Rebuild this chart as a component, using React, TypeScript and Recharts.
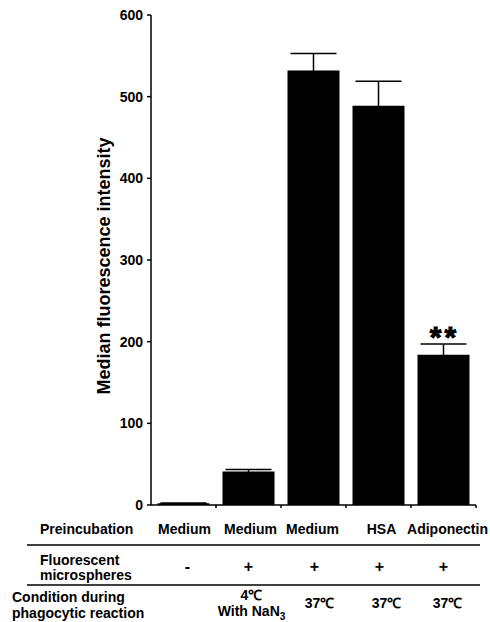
import React from "react";
import { BarChart, Bar, XAxis, YAxis, ErrorBar, LabelList } from "recharts";

const preincubation = ["Medium", "Medium", "Medium", "HSA", "Adiponectin"];
const microspheres = ["-", "+", "+", "+", "+"];
const conditions: string[][] = [[], ["4℃", "With NaN"], ["37℃"], ["37℃"], ["37℃"]];
const medianFluorescence = [2, 41, 532, 489, 184];
const sem = [0.5, 2.5, 21, 30, 13];
const significance = ["", "", "", "", "**"];
const yTicks = [0, 100, 200, 300, 400, 500, 600];

// small per-column nudges of the table text (layout only)
const nameShift = [1, 2, -1, 3, 4];
const signShift = [4, 0, 1, 1, 0];
const condShift = [0, 3, 6, 8, 4];

const FONT = "'Liberation Sans', Arial, Helvetica, sans-serif";

const data = preincubation.map((name, i) => ({
  id: i,
  name,
  value: medianFluorescence[i],
  err: sem[i],
  sig: significance[i],
}));

// one column of the table under the chart, plus the boundary tick
const TableTick = (props: any) => {
  const { x, y, index } = props;
  const band = 65;
  const cond = conditions[index];
  const cx = x + condShift[index];
  return (
    <g fontFamily={FONT} fontWeight="bold" fontSize={14} fill="#000">
      <line x1={x + band / 2} x2={x + band / 2} y1={y} y2={y + 3} stroke="#000" strokeWidth={1.5} />
      <text x={x + nameShift[index]} y={y + 29} textAnchor="middle">{preincubation[index]}</text>
      <text x={x + signShift[index]} y={y + 67} textAnchor="middle" fontSize={16}>
        {microspheres[index]}
      </text>
      {cond.length === 2 ? (
        <>
          <text x={cx} y={y + 95} textAnchor="middle">{cond[0]}</text>
          <text x={cx} y={y + 111} textAnchor="middle">
            {cond[1]}
            <tspan dy={4} fontSize={10}>3</tspan>
          </text>
        </>
      ) : cond.length === 1 ? (
        <text x={cx} y={y + 103} textAnchor="middle">{cond[0]}</text>
      ) : null}
    </g>
  );
};

const Stars = (props: any) => {
  const { x, y, width, value } = props;
  if (!value) return null;
  return (
    <text
      x={x + width / 2 + 1}
      y={y - 8}
      textAnchor="middle"
      fontFamily={FONT}
      fontWeight="bold"
      fontSize={30}
      letterSpacing={3}
      fill="#000"
      stroke="#000"
      strokeWidth={1}
    >
      {value}
    </text>
  );
};

export default function App() {
  return (
    <div style={{ position: "absolute", left: 0, top: 0, width: 490, height: 622, background: "#fff" }}>
      <BarChart
        width={490}
        height={622}
        data={data}
        margin={{ top: 15, right: 14, bottom: 0, left: 0 }}
        barCategoryGap="10%"
      >
        <YAxis
          width={151}
          domain={[0, 600]}
          ticks={yTicks}
          interval={0}
          tickSize={4}
          tickMargin={4}
          stroke="#000"
          strokeWidth={1.5}
          tick={{ fill: "#000", fontSize: 14, fontWeight: "bold", fontFamily: FONT }}
          label={{
            content: () => (
              <text
                x={110}
                y={266}
                transform="rotate(-90, 110, 266)"
                textAnchor="middle"
                fontFamily={FONT}
                fontWeight="bold"
                fontSize={18}
                fill="#000"
              >
                Median fluorescence intensity
              </text>
            ),
          }}
        />
        <XAxis
          dataKey="id"
          height={117}
          interval={0}
          tickLine={false}
          tickSize={0}
          tickMargin={0}
          stroke="#000"
          strokeWidth={1.5}
          tick={<TableTick />}
        />
        <Bar dataKey="value" fill="#000" isAnimationActive={false}>
          <ErrorBar dataKey="err" width={23} stroke="#000" strokeWidth={1.5} direction="y" isAnimationActive={false} />
          <LabelList dataKey="sig" content={<Stars />} />
        </Bar>
      </BarChart>
      <svg
        width={490}
        height={622}
        style={{ position: "absolute", left: 0, top: 0, pointerEvents: "none" }}
        fontFamily={FONT}
        fontWeight="bold"
        fontSize={14}
      >
        <text x={40} y={534}>Preincubation</text>
        <line x1={27} x2={480} y1={545} y2={545} stroke="#000" strokeWidth={1.5} />
        <text x={40} y={565}>Fluorescent</text>
        <text x={40} y={580}>microspheres</text>
        <line x1={27} x2={480} y1={585} y2={585} stroke="#000" strokeWidth={1.5} />
        <text x={12} y={602}>Condition during</text>
        <text x={12} y={618}>phagocytic reaction</text>
      </svg>
    </div>
  );
}
